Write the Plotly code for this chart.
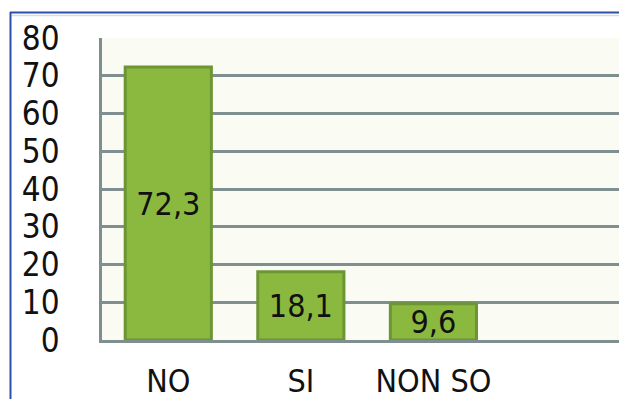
import plotly.graph_objects as go

# Survey answers (percent)
categories = ["NO", "SI", "NON SO"]
values = [72.3, 18.1, 9.6]
y_ticks = [0, 10, 20, 30, 40, 50, 60, 70, 80]

W, H = 619, 399
ML, MR, MT, MB = 102, 0, 38, 59
PW, PH = W - ML - MR, H - MT - MB


def px_x(p):
    return (p - ML) / PW


def px_y(p):
    return (H - MB - p) / PH


FONT = "DejaVu Sans Condensed, Liberation Sans Narrow, sans-serif"
GRID = "#7f8e8e"

fig = go.Figure(
    go.Bar(
        x=categories,
        y=values,
        marker=dict(color="#8bb940", line=dict(color="#6c9534", width=3)),
        texttemplate="%{y:.1f}",
        textposition="inside",
        insidetextanchor="middle",
        constraintext="none",
        textfont=dict(family=FONT, size=32, color="#111111"),
        textangle=0,
    )
)

fig.update_layout(
    width=W,
    height=H,
    margin=dict(l=ML, r=MR, t=MT, b=MB, pad=0),
    paper_bgcolor="white",
    plot_bgcolor="#fafcf4",
    separators=",.",
    bargap=0.35,
    showlegend=False,
    xaxis=dict(
        range=[-0.5, 3.4],
        automargin=False,
        showgrid=False,
        showline=True,
        linecolor=GRID,
        linewidth=2.5,
        ticks="",
        ticklabelstandoff=11,
        tickfont=dict(family=FONT, size=32, color="#111111"),
    ),
    yaxis=dict(
        range=[0, 80],
        automargin=False,
        tickvals=y_ticks,
        showgrid=True,
        gridcolor=GRID,
        gridwidth=2.5,
        zeroline=False,
        showline=True,
        linecolor=GRID,
        linewidth=2.5,
        ticks="",
        ticklabelstandoff=33,
        tickfont=dict(family=FONT, size=33, color="#111111"),
    ),
)

# Frame lines around the chart (blue edge with a faint inner line)
fig.add_shape(type="line", xref="paper", yref="paper",
              x0=px_x(10), x1=1.0, y0=px_y(12.5), y1=px_y(12.5),
              line=dict(color="#2d4fa6", width=2), layer="above")
fig.add_shape(type="line", xref="paper", yref="paper",
              x0=px_x(12), x1=1.0, y0=px_y(15.5), y1=px_y(15.5),
              line=dict(color="#d6dbe6", width=1.5), layer="above")
fig.add_shape(type="line", xref="paper", yref="paper",
              x0=px_x(10.5), x1=px_x(10.5), y0=px_y(12), y1=px_y(H),
              line=dict(color="#2d4fa6", width=2), layer="above")

fig.write_html("out.html")
